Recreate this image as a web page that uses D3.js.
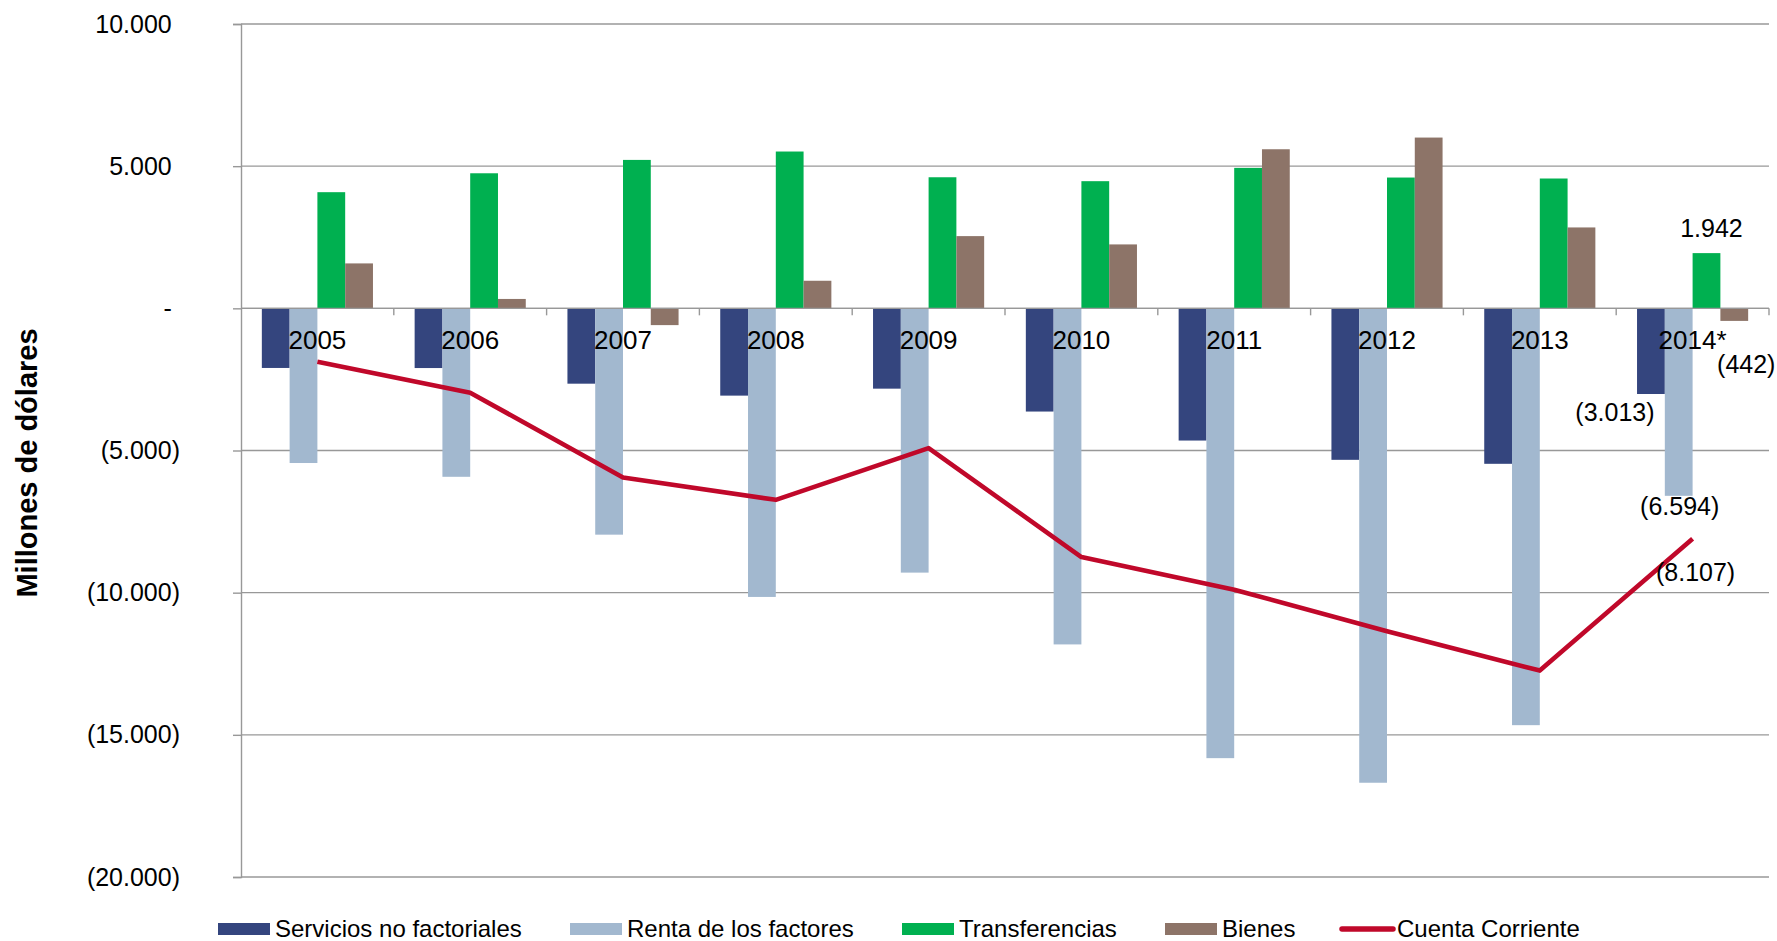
<!DOCTYPE html>
<html>
<head>
<meta charset="utf-8">
<script src="https://cdn.jsdelivr.net/npm/d3@7"></script>
<style>
  html, body { margin: 0; padding: 0; background: #ffffff; }
  svg { display: block; font-family: Arial, "Liberation Sans", Helvetica, sans-serif; }
</style>
</head>
<body>
<svg id="chart" width="1777" height="941"></svg>
<script>
// ---- Data ----
const years = ["2005", "2006", "2007", "2008", "2009", "2010", "2011", "2012", "2013", "2014*"];
const servicios = [-2097, -2100, -2650, -3070, -2825, -3630, -4650, -5328, -5468, -3013];
const renta = [-5440, -5925, -7960, -10150, -9295, -11820, -15820, -16685, -14660, -6594];
const transferencias = [4085, 4750, 5220, 5515, 4610, 4472, 4940, 4600, 4566, 1942];
const bienes = [1580, 330, -590, 970, 2540, 2248, 5595, 6006, 2845, -442];
const cuenta = [-1875, -2965, -5950, -6735, -4917, -8746, -9895, -11360, -12740, -8107];
const seriesNames = ["Servicios no factoriales", "Renta de los factores", "Transferencias", "Bienes"];
const lineName = "Cuenta Corriente";
const yTicks = [10000, 5000, 0, -5000, -10000, -15000, -20000];
const yTitle = "Millones de dólares";

const colors = {
  "Servicios no factoriales": "#34457e",
  "Renta de los factores": "#a2b8cf",
  "Transferencias": "#00b050",
  "Bienes": "#8d7468",
  "Cuenta Corriente": "#c0082a"
};
const seriesValues = [servicios, renta, transferencias, bienes];

// ---- Layout ----
const svg = d3.select("#chart");
const plotLeft = 241, plotRight = 1769, plotTop = 24, plotBottom = 877;

const x0 = d3.scaleBand().domain(years).range([plotLeft, plotRight]).paddingInner(0).paddingOuter(0);
const x1 = d3.scaleBand().domain(seriesNames).range([0, x0.bandwidth()]).paddingInner(0).paddingOuter(0.75);
const y = d3.scaleLinear().domain([-20000, 10000]).range([plotBottom, plotTop]);

const gridColor = "#989898";

// Gridlines
svg.append("g").selectAll("line").data(yTicks).join("line")
  .attr("x1", plotLeft).attr("x2", plotRight)
  .attr("y1", d => y(d)).attr("y2", d => y(d))
  .attr("stroke", gridColor).attr("stroke-width", 1.4);

// Y axis with ticks and labels
const fmtNum = d3.format(",.0f");
function fmt(d) {
  const s = fmtNum(Math.abs(d)).replace(/,/g, ".");
  if (d === 0) return "-";
  return d < 0 ? "(" + s + ")" : s;
}
const yAxis = d3.axisLeft(y).tickValues(yTicks).tickSize(8).tickPadding(53).tickFormat(fmt);
const gy = svg.append("g").attr("transform", `translate(${plotLeft},0)`).call(yAxis);
gy.select(".domain").attr("stroke", gridColor).attr("stroke-width", 1.4);
gy.selectAll(".tick line").attr("stroke", gridColor).attr("stroke-width", 1.4);
gy.selectAll(".tick text")
  .attr("font-size", 25).attr("fill", "#000")
  .attr("font-family", "Arial, 'Liberation Sans', sans-serif")
  .attr("dx", d => d >= 0 ? -8.3 : 0);

// Category boundary ticks on the zero line
svg.append("g").selectAll("line").data(years).join("line")
  .attr("x1", d => x0(d) + x0.bandwidth()).attr("x2", d => x0(d) + x0.bandwidth())
  .attr("y1", y(0)).attr("y2", y(0) + 7)
  .attr("stroke", gridColor).attr("stroke-width", 1.4);

// Bars
const barData = [];
years.forEach((yr, i) => {
  seriesNames.forEach((s, j) => {
    barData.push({ year: yr, series: s, value: seriesValues[j][i] });
  });
});
svg.append("g").selectAll("rect").data(barData).join("rect")
  .attr("x", d => x0(d.year) + x1(d.series))
  .attr("width", x1.bandwidth())
  .attr("y", d => Math.min(y(d.value), y(0)))
  .attr("height", d => Math.abs(y(d.value) - y(0)))
  .attr("fill", d => colors[d.series]);

// Zero line on top of bars
svg.append("line")
  .attr("x1", plotLeft).attr("x2", plotRight).attr("y1", y(0)).attr("y2", y(0))
  .attr("stroke", gridColor).attr("stroke-width", 1.4);

// Category labels
svg.append("g").selectAll("text").data(years).join("text")
  .attr("x", d => x0(d) + x0.bandwidth() / 2)
  .attr("y", y(0) + 41)
  .attr("text-anchor", "middle")
  .attr("font-size", 26).attr("fill", "#000")
  .text(d => d);

// Line
const lineGen = d3.line()
  .x((d, i) => x0(years[i]) + x0.bandwidth() / 2)
  .y(d => y(d));
svg.append("path").datum(cuenta)
  .attr("d", lineGen)
  .attr("fill", "none")
  .attr("stroke", colors[lineName])
  .attr("stroke-width", 4.6)
  .attr("stroke-linejoin", "round");

// Data labels for last year
const last = years.length - 1;
const lastYear = years[last];
const labelFont = 25;
function barCenter(s) { return x0(lastYear) + x1(s) + x1.bandwidth() / 2; }
const dataLabels = [
  { x: barCenter("Transferencias") + 5, y: y(transferencias[last]) - 16, v: transferencias[last] },
  { x: barCenter("Bienes") + 12, y: y(bienes[last]) + 52, v: bienes[last] },
  { x: barCenter("Servicios no factoriales") - 36, y: y(servicios[last]) + 27, v: servicios[last] },
  { x: barCenter("Renta de los factores") + 1, y: y(renta[last]) + 19, v: renta[last] },
  { x: x0(lastYear) + x0.bandwidth() / 2 + 3, y: y(cuenta[last]) + 42, v: cuenta[last] }
];
svg.append("g").selectAll("text").data(dataLabels).join("text")
  .attr("x", d => d.x).attr("y", d => d.y)
  .attr("text-anchor", "middle")
  .attr("font-size", labelFont).attr("fill", "#000")
  .text(d => fmt(d.v));

// Y title
svg.append("text")
  .attr("transform", "translate(37,463) rotate(-90)")
  .attr("text-anchor", "middle")
  .attr("font-size", 29).attr("font-weight", "bold").attr("fill", "#000")
  .text(yTitle);

// Legend
const legendItems = [
  { name: seriesNames[0], x: 218, type: "rect" },
  { name: seriesNames[1], x: 570, type: "rect" },
  { name: seriesNames[2], x: 902, type: "rect" },
  { name: seriesNames[3], x: 1165, type: "rect" },
  { name: lineName, x: 1340, type: "line" }
];
const lg = svg.append("g");
legendItems.forEach(it => {
  if (it.type === "rect") {
    lg.append("rect").attr("x", it.x).attr("y", 923).attr("width", 52).attr("height", 12)
      .attr("fill", colors[it.name]);
  } else {
    lg.append("line").attr("x1", it.x + 2).attr("x2", it.x + 53).attr("y1", 929).attr("y2", 929)
      .attr("stroke", colors[it.name]).attr("stroke-width", 5.5).attr("stroke-linecap", "round");
  }
  lg.append("text").attr("x", it.x + 57).attr("y", 937)
    .attr("font-size", 24).attr("fill", "#000").text(it.name);
});
</script>
</body>
</html>
